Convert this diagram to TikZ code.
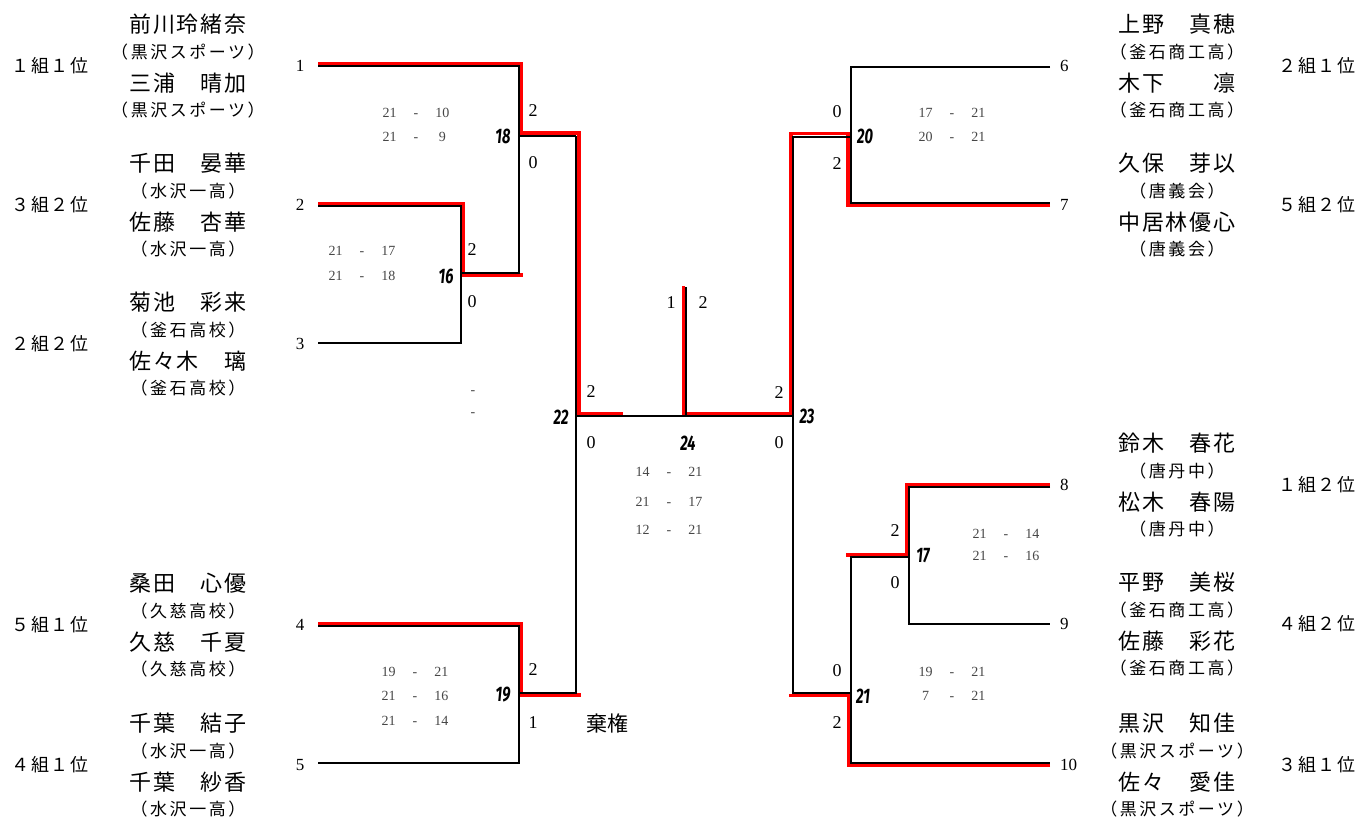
\documentclass[tikz,border=0pt]{standalone}
\usepackage{fontspec}
\setmainfont{Liberation Serif}
\newfontfamily\jfont{Noto Sans CJK JP}
\newfontfamily\jwide{Noto Sans CJK JP}[LetterSpace=8]
\newfontfamily\jclub{Noto Sans CJK JP}[LetterSpace=15]
\newfontfamily\matchfont{Fira Sans}
\definecolor{winred}{RGB}{255,0,0}
\definecolor{scoreink}{RGB}{70,70,70}
\newcommand{\rally}[2]{\makebox[20pt]{#1}\hspace{14pt}-\hspace{14pt}\makebox[20pt]{#2}}

\begin{document}
\begin{tikzpicture}[x=1pt, y=-1pt,
    wire/.style={line width=2pt, color=black},
    winwire/.style={line width=3.6pt, color=winred},
    player/.style={font=\jwide\fontsize{22}{22}\selectfont, inner sep=0pt},
    club/.style={font=\jclub\fontsize{17}{17}\selectfont, inner sep=0pt},
    rank/.style={font=\jwide\fontsize{18}{18}\selectfont, inner sep=0pt},
    entry/.style={font=\fontsize{17}{17}\selectfont, inner sep=0pt},
    games/.style={font=\fontsize{18}{18}\selectfont, inner sep=0pt},
    matchno/.style={font=\matchfont\bfseries\itshape\fontsize{21}{21}\selectfont, inner sep=0pt},
    score/.style={font=\fontsize{14}{14}\selectfont, color=scoreink, inner sep=0pt}]

  \useasboundingbox (0,0) rectangle (1360,821);

  % ---- teams, left half ------------------------------------------------------
  \foreach \k/\y/\pa/\ca/\pb/\cb/\rk in {
      1/66/前川玲緒奈/黒沢スポーツ/三浦　晴加/黒沢スポーツ/１組１位,
      2/205/千田　晏華/水沢一高/佐藤　杏華/水沢一高/３組２位,
      3/344/菊池　彩来/釜石高校/佐々木　璃/釜石高校/２組２位,
      4/625/桑田　心優/久慈高校/久慈　千夏/久慈高校/５組１位,
      5/765/千葉　結子/水沢一高/千葉　紗香/水沢一高/４組１位} {
    \node[rank] (rank\k) at (50,\y) {\rk};
    \node[player] (pa\k) at (188,\y-42) {\pa};
    \node[club] (ca\k) at (188,\y-14) {（\ca）};
    \node[player] (pb\k) at (188,\y+17) {\pb};
    \node[club] (cb\k) at (188,\y+44) {（\cb）};
    \node[entry] (no\k) at (300,\y) {\k};
  }

  % ---- teams, right half -----------------------------------------------------
  \foreach \k/\y/\pa/\ca/\pb/\cb/\rk in {
      6/66/上野　真穂/釜石商工高/木下　　凛/釜石商工高/２組１位,
      7/205/久保　芽以/唐義会/中居林優心/唐義会/５組２位,
      8/485/鈴木　春花/唐丹中/松木　春陽/唐丹中/１組２位,
      9/624/平野　美桜/釜石商工高/佐藤　彩花/釜石商工高/４組２位,
      10/765/黒沢　知佳/黒沢スポーツ/佐々　愛佳/黒沢スポーツ/３組１位} {
    \node[rank] (rank\k) at (1317,\y) {\rk};
    \node[player] (pa\k) at (1177,\y-42) {\pa};
    \node[club] (ca\k) at (1177,\y-14) {（\ca）};
    \node[player] (pb\k) at (1177,\y+17) {\pb};
    \node[club] (cb\k) at (1177,\y+44) {（\cb）};
    \node[entry, anchor=west] (no\k) at (1060,\y) {\k};
  }

  % ---- winners' paths (red, under the black lines) ---------------------------
  \draw[winwire] (318,64) -- (521.5,64) -- (521.5,133.3) -- (579,133.3)
                 -- (579,413.3) -- (622.7,413.3);
  \draw[winwire] (318,203.8) -- (462.7,203.8) -- (462.7,275) -- (522.7,275);
  \draw[winwire] (318,623.3) -- (521.3,623.3) -- (521.3,695) -- (580.7,695);
  \draw[winwire] (1050,205.7) -- (848,205.7) -- (848,133.7) -- (790.7,133.7)
                 -- (790.7,413.3) -- (683.3,413.3) -- (683.3,286);
  \draw[winwire] (1050,484.3) -- (906.7,484.3) -- (906.7,554.7) -- (846,554.7);
  \draw[winwire] (1050,765.3) -- (848.3,765.3) -- (848.3,695.3) -- (789,695.3);

  % ---- bracket lines ---------------------------------------------------------
  \draw[wire] (318,65.7) -- (518.7,65.7) -- (518.7,272.8) -- (460.5,272.8);
  \draw[wire] (318,205.8) -- (460.5,205.8) -- (460.5,343) -- (318,343);
  \draw[wire] (518.7,136) -- (576.3,136);
  \draw[wire] (576.3,136) -- (576.3,692.8) -- (518.7,692.8);
  \draw[wire] (318,625.7) -- (518.7,625.7) -- (518.7,763.3) -- (318,763.3);
  \draw[wire] (576.3,416.3) -- (793.3,416.3);
  \draw[wire] (686.3,287) -- (686.3,416.3);
  \draw[wire] (1050,66.7) -- (850.7,66.7) -- (850.7,202.8) -- (1050,202.8);
  \draw[wire] (850.7,137) -- (793.3,137) -- (793.3,692.8) -- (850.7,692.8);
  \draw[wire] (909.2,557.2) -- (850.7,557.2) -- (850.7,762.8) -- (1050,762.8);
  \draw[wire] (1050,487.2) -- (909.2,487.2) -- (909.2,623.5) -- (1050,623.5);

  % ---- match numbers and games won -------------------------------------------
  \foreach \m/\x/\y in {18/503/136, 16/446/276, 22/561/417, 19/503/695,
                        20/865/136, 17/923/556, 21/863/696, 24/688/443, 23/807/416} {
    \node[matchno] (m\m) at (\x,\y) {\scalebox{0.7}[1]{\m}};
  }
  \foreach \g/\x/\y [count=\i] in {2/533/111, 0/533/163, 2/472/250, 0/472/302,
                        2/591/392, 0/591/443, 2/533/670, 1/533/723,
                        0/837/112, 2/837/164, 2/895/531, 0/895/583,
                        0/837/671, 2/837/723, 2/779/393, 0/779/443,
                        1/671/303, 2/703/303} {
    \node[games] (g\i) at (\x,\y) {\g};
  }
  \node[player, font=\jfont\fontsize{21}{21}\selectfont] (retire) at (607,723) {棄権};

  % ---- set scores ------------------------------------------------------------
  \foreach \a/\b/\x/\y [count=\i] in {21/10/416/113, 21/9/416/137,
                        21/17/362/251, 21/18/362/276,
                        19/21/415/672, 21/16/415/696, 21/14/415/721,
                        17/21/952/113, 20/21/952/137,
                        21/14/1006/534, 21/16/1006/556,
                        19/21/952/672, 7/21/952/696,
                        14/21/669/472, 21/17/669/502, 12/21/669/530} {
    \node[score] (s\i) at (\x,\y) {\rally{\a}{\b}};
  }
  \node[score] (bye1) at (473,393) {-};
  \node[score] (bye2) at (473,415) {-};
\end{tikzpicture}
\end{document}
